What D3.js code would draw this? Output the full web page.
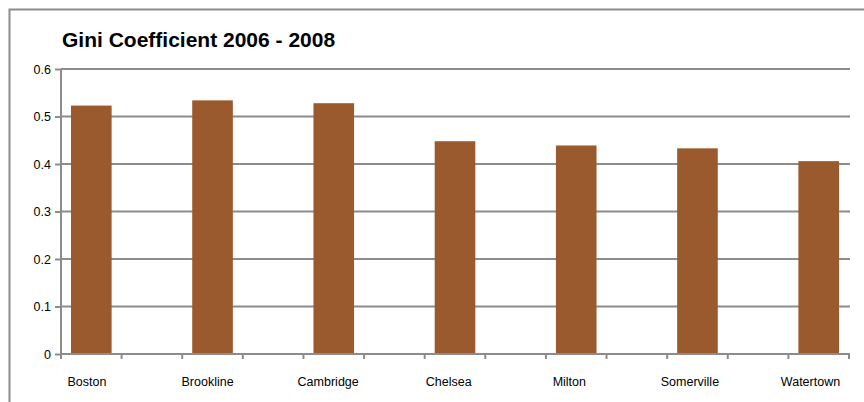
<!DOCTYPE html>
<html><head><meta charset="utf-8">
<script src="https://cdn.jsdelivr.net/npm/d3@7"></script>
<style>body{margin:0;background:#fff;}svg{display:block;font-family:"Liberation Sans",Arial,sans-serif;}</style>
</head><body><svg id="c" width="864" height="402"></svg>
<script>
const categories = ["Boston","Brookline","Cambridge","Chelsea","Milton","Somerville","Watertown"];
const values = [0.523, 0.534, 0.528, 0.448, 0.439, 0.433, 0.406];
const yTicks = [0, 0.1, 0.2, 0.3, 0.4, 0.5, 0.6];
const yTickLabels = ["0","0.1","0.2","0.3","0.4","0.5","0.6"];
const title = "Gini Coefficient 2006 - 2008";

const svg = d3.select("#c");
const L = 61, R = 849, T = 69, B = 354;
const grid = "#8c8c8c";

// outer frame
svg.append("rect").attr("x",9.5).attr("y",9.5).attr("width",900).attr("height",450)
  .attr("fill","none").attr("stroke",grid).attr("stroke-width",2);

svg.append("text").attr("x",62).attr("y",46.5).attr("font-size",21).attr("font-weight","bold")
  .attr("fill","#000").text(title);

const y = d3.scaleLinear().domain([0,0.6]).range([B,T]);
const nSlots = categories.length*2 - 1;
const slots = d3.scaleBand().domain(d3.range(nSlots)).range([L,R]).padding(0);
const barW = slots.bandwidth()*0.67;
const labelX = d3.scalePoint().domain(categories).range([87,810.5]);

// gridlines
svg.append("g").selectAll("line").data(yTicks.filter(d=>d>0)).join("line")
  .attr("x1",L).attr("x2",R+1).attr("y1",d=>y(d)).attr("y2",d=>y(d))
  .attr("stroke",grid).attr("stroke-width",2);

// bars
svg.append("g").selectAll("rect").data(values).join("rect")
  .attr("x",(d,i)=>slots(i*2)+(slots.bandwidth()-barW)/2)
  .attr("width",barW)
  .attr("y",d=>y(d)).attr("height",d=>B-y(d))
  .attr("fill","#9b5a2e");

// y axis
const yAxis = d3.axisLeft(y).tickValues(yTicks).tickSize(6).tickPadding(4)
  .tickFormat((d,i)=>yTickLabels[i]);
const gy = svg.append("g").attr("transform",`translate(${L},0)`).call(yAxis);
gy.select(".domain").attr("stroke",grid).attr("stroke-width",2).attr("d",`M0,${T}V${B+5}`);
gy.selectAll(".tick line").attr("stroke",grid).attr("stroke-width",2);
gy.selectAll(".tick text").attr("font-size",12.5).attr("fill","#000")
  .attr("font-family","Liberation Sans, Arial, sans-serif");

// x axis
const gx = svg.append("g");
gx.append("line").attr("x1",L-1).attr("x2",R+1).attr("y1",B).attr("y2",B)
  .attr("stroke",grid).attr("stroke-width",2);
gx.selectAll("line.t").data(d3.range(nSlots+1)).join("line").attr("class","t")
  .attr("x1",i=> i<nSlots ? slots(i) : R).attr("x2",i=> i<nSlots ? slots(i) : R)
  .attr("y1",B).attr("y2",B+5).attr("stroke",grid).attr("stroke-width",2);
gx.selectAll("text").data(categories).join("text")
  .attr("x",d=>labelX(d)).attr("y",386).attr("text-anchor","middle")
  .attr("font-size",12.5).attr("fill","#000").text(d=>d);
</script></body></html>
